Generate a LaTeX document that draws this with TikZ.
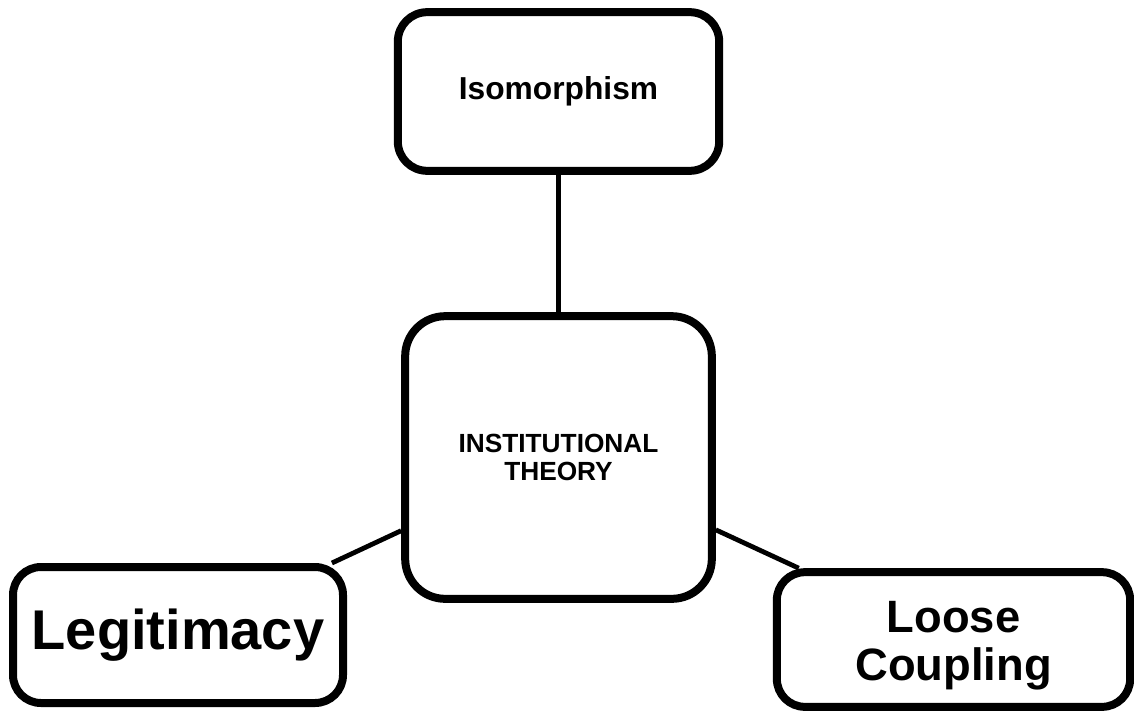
\documentclass[tikz,border=0pt]{standalone}
\usepackage{fontspec}
\setmainfont{Liberation Sans}
\usetikzlibrary{positioning}

\tikzset{
  conceptbox/.style={draw,line width=6pt,fill=white,rounded corners=#1,align=center,inner sep=0pt},
  conceptbox/.default=22pt,
  link/.style={line width=3.6pt}
}

\begin{document}
\begin{tikzpicture}[x=.75pt,y=.75pt,font=\bfseries]
\useasboundingbox (0,0) rectangle (1134,-711);
% centre concept and its three branches
\node[conceptbox=30pt,minimum width=230pt,minimum height=212pt,
  font=\bfseries\fontsize{19.7}{21}\selectfont] (theory) at (558.5,-457.5) {INSTITUTIONAL\\THEORY};
\node[conceptbox,minimum width=241pt,minimum height=119pt,
  font=\bfseries\fontsize{23.8}{28}\selectfont] (iso) at (558.5,-91.5) {Isomorphism};
\node[conceptbox=21pt,minimum width=247.5pt,minimum height=102pt,
  font=\bfseries\fontsize{42}{48}\selectfont] (legit) at (178,-635) {Legitimacy};
% text sits a little low in this box
\node[conceptbox=21pt,minimum width=265pt,minimum height=101pt,
  font=\bfseries\fontsize{34}{36}\selectfont] (loose) at (953.5,-639.5) {\rule{0pt}{33pt}Loose\\Coupling};
% connectors
\draw[link] (iso) -- (theory);
\draw[link] (legit) -- (theory);
\draw[link] (theory) -- (loose);
\end{tikzpicture}
\end{document}
